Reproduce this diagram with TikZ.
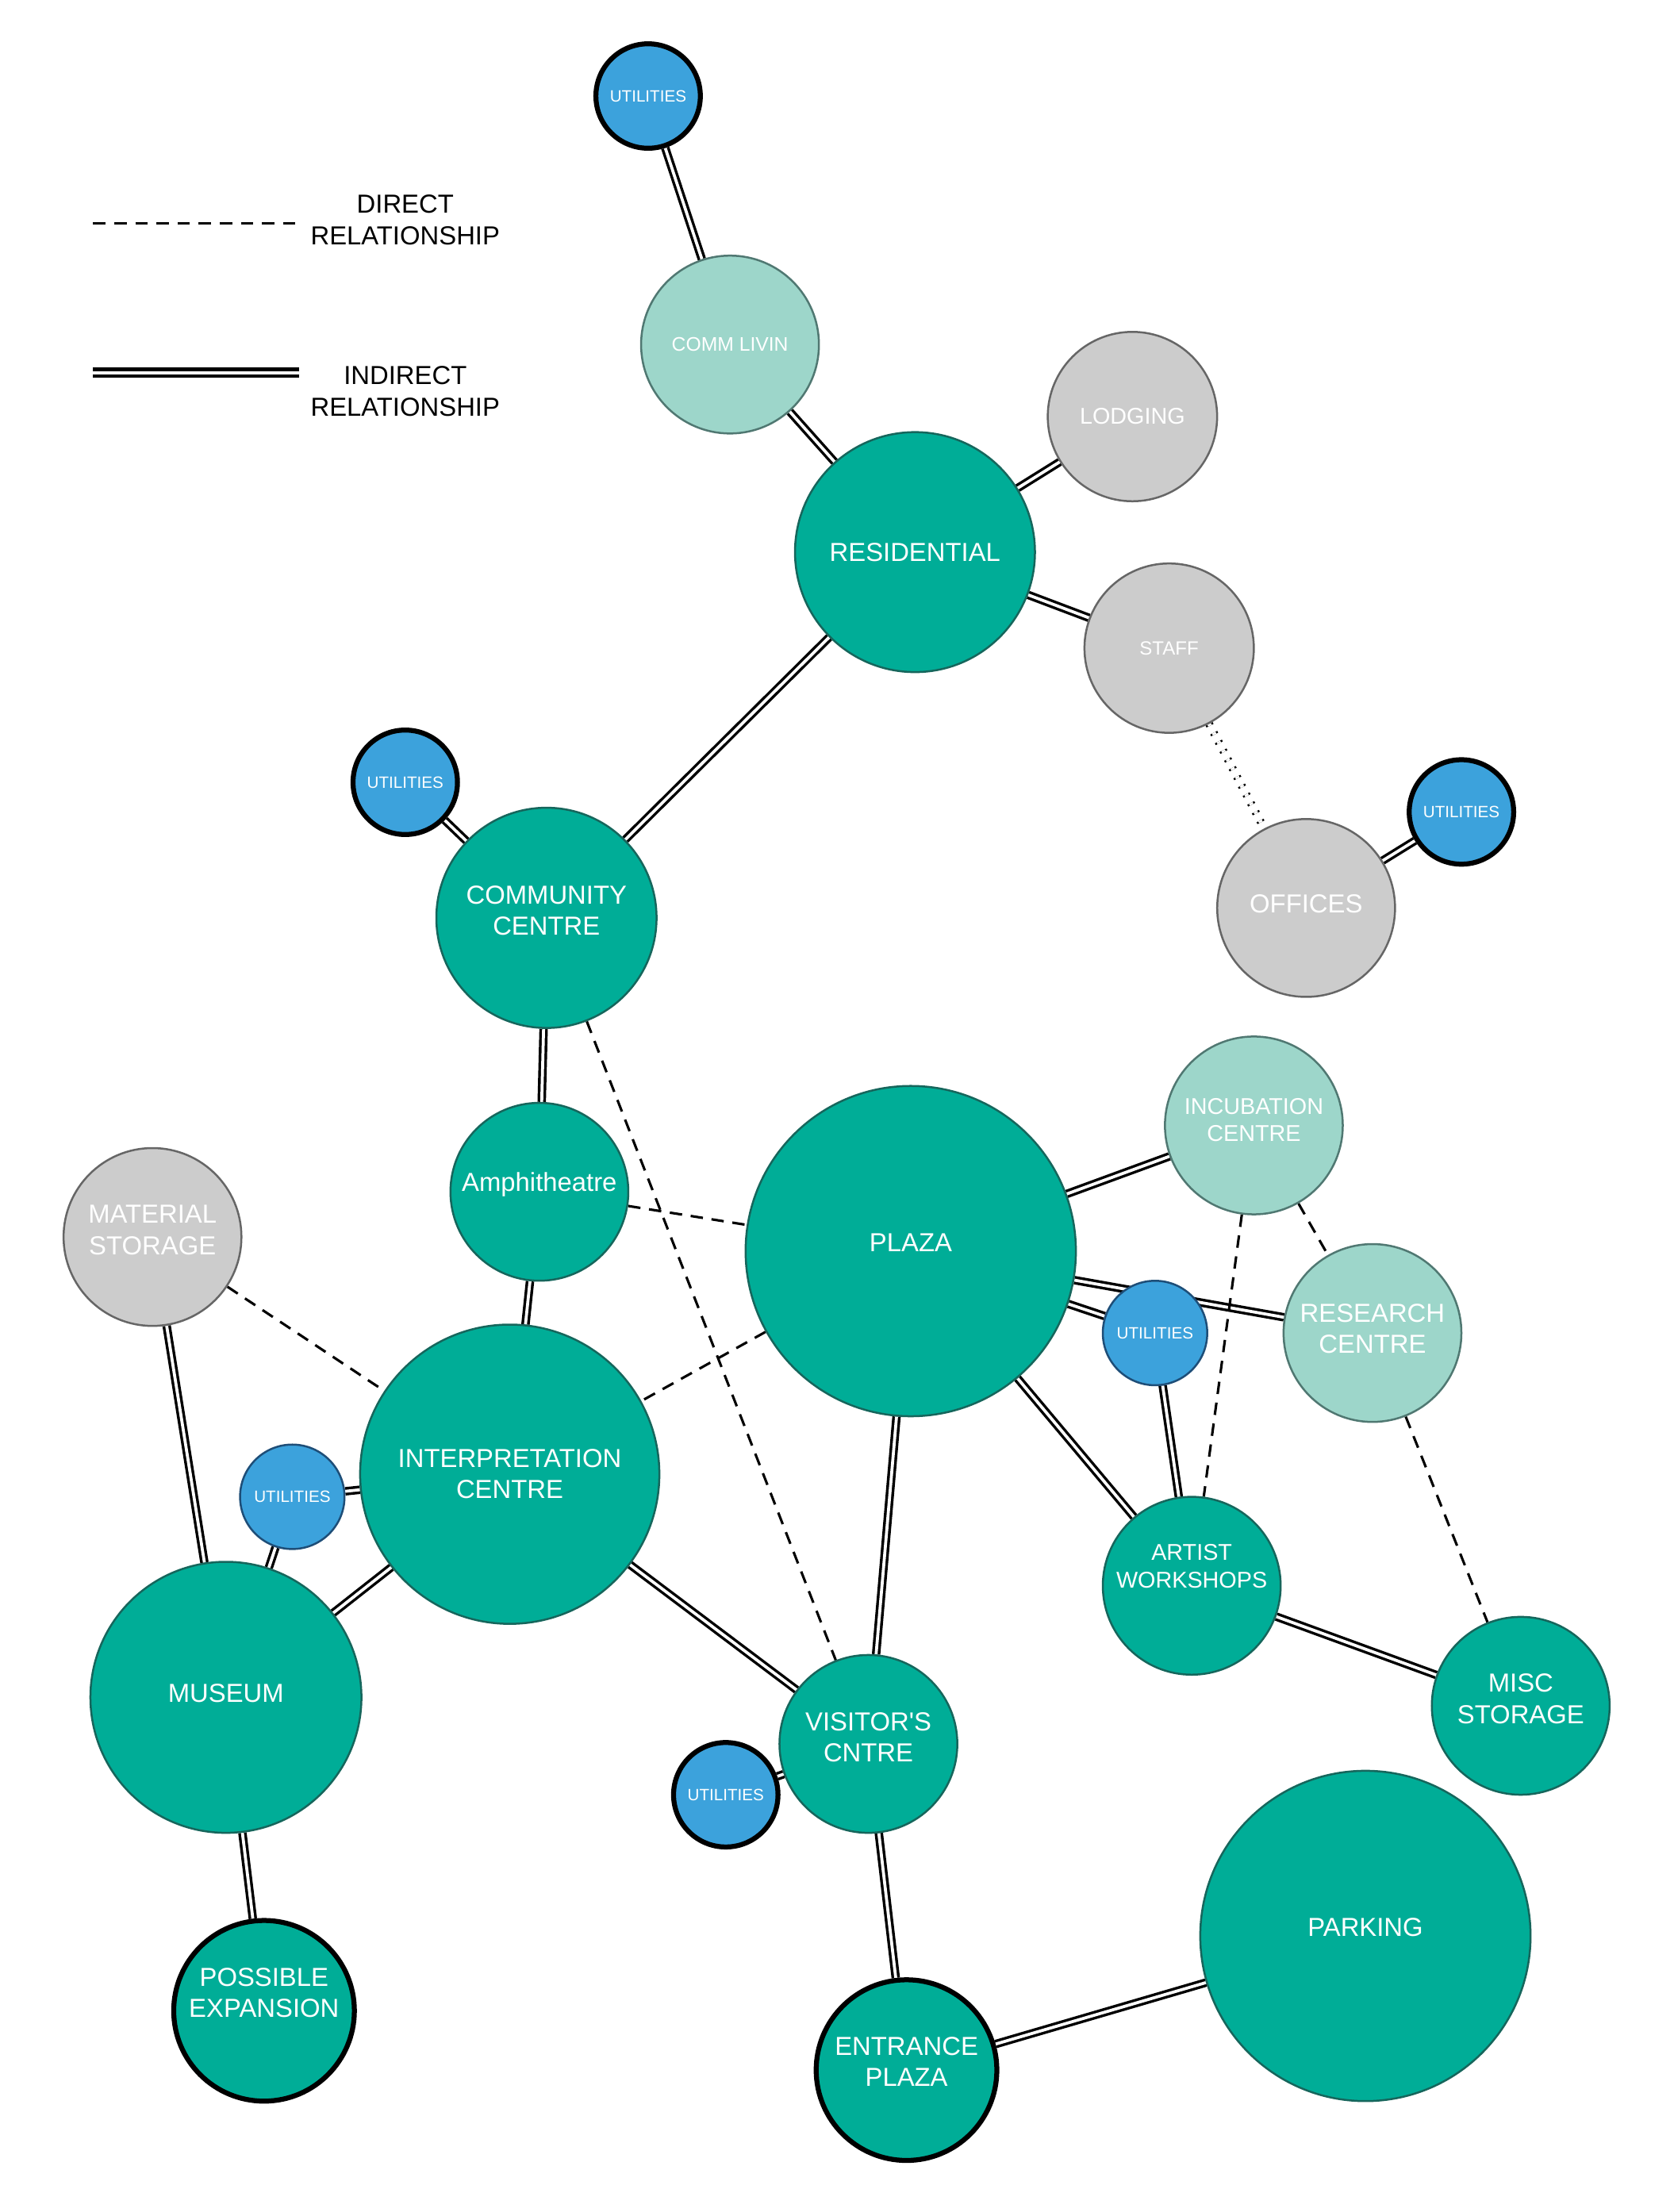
\documentclass[tikz,border=0pt]{standalone}
\usepackage{fontspec}
\setmainfont{Liberation Sans}
\usetikzlibrary{backgrounds}

\definecolor{hubteal}{RGB}{0,173,151}
\definecolor{hubedge}{RGB}{22,102,92}
\definecolor{softteal}{RGB}{157,214,202}
\definecolor{softedge}{RGB}{80,120,114}
\definecolor{stonefill}{RGB}{204,204,204}
\definecolor{stoneedge}{RGB}{102,102,102}
\definecolor{utilblue}{RGB}{60,162,220}
\definecolor{utiledge}{RGB}{30,78,120}

\tikzset{
  rad/.style={minimum size=#1*0.04cm},
  lift/.style={text depth=#1},
  bubble/.style={circle,inner sep=0pt,text=white,align=center,line width=0.8pt,
    font=\fontsize{10.5}{12.5}\selectfont},
  hub/.style={bubble,fill=hubteal,draw=hubedge},
  soft/.style={bubble,fill=softteal,draw=softedge},
  stone/.style={bubble,fill=stonefill,draw=stoneedge},
  util/.style={bubble,fill=utilblue,draw=utiledge,rad=37,font=\fontsize{6.6}{8}\selectfont},
  keyring/.style={draw=black,line width=2pt},
  indirect/.style={double,double distance=1.2pt,line width=1.1pt},
  direct/.style={line width=1pt,dash pattern=on 5pt off 3.5pt},
  dotty/.style={double,double distance=1.6pt,line width=0.8pt,dash pattern=on 0.8pt off 3.2pt},
  keytext/.style={align=center,font=\fontsize{10.5}{12.8}\selectfont},
}

\begin{document}
\begin{tikzpicture}[x=0.02cm,y=-0.02cm]
  \useasboundingbox (0,0) rectangle (1185,1566.5);

  % legend
  \coordinate (dirA) at (66,158);
  \coordinate (dirB) at (212,158);
  \coordinate (indA) at (66,264);
  \coordinate (indB) at (212,264);
  \node[keytext] (dirtext) at (287,156) {DIRECT\\RELATIONSHIP};
  \node[keytext] (indtext) at (287,277) {INDIRECT\\RELATIONSHIP};
  \draw[direct] (dirA)--(dirB);
  \draw[indirect,line width=1.3pt,double distance=1.5pt] (indA)--(indB);

  % spaces
  \node[util,keyring] (utiltop) at (459,68) {UTILITIES};
  \node[soft,rad=63,font=\fontsize{7.9}{9.5}\selectfont] (commliv) at (517,244) {COMM LIVIN};
  \node[hub,rad=85] (resid) at (648,391) {RESIDENTIAL};
  \node[stone,rad=60,font=\fontsize{9.2}{11}\selectfont] (lodge) at (802,295) {LODGING};
  \node[stone,rad=60,font=\fontsize{7.7}{9}\selectfont] (staff) at (828,459) {STAFF};
  \node[stone,rad=63,lift=3.4pt] (office) at (925,643) {OFFICES};
  \node[util,keyring] (utiloff) at (1035,575) {UTILITIES};
  \node[util,keyring] (utilcom) at (287,554) {UTILITIES};
  \node[hub,rad=78,lift=5.7pt] (commun) at (387,650) {COMMUNITY\\CENTRE};
  \node[hub,rad=63,lift=7.9pt] (amphi) at (382,844) {Amphitheatre};
  \node[hub,rad=117,lift=6.8pt] (plaza) at (645,886) {PLAZA};
  \node[soft,rad=63,lift=4.5pt,font=\fontsize{9.2}{11}\selectfont] (incub) at (888,797) {INCUBATION\\CENTRE};
  \node[soft,rad=63,lift=3.4pt] (research) at (972,944) {RESEARCH\\CENTRE};
  \node[util] (utilplaza) at (818,944) {UTILITIES};
  \node[stone,rad=63,lift=5.7pt] (matstore) at (108,876) {MATERIAL\\STORAGE};
  \node[hub,rad=106] (interp) at (361,1044) {INTERPRETATION\\CENTRE};
  \node[util] (utilint) at (207,1060) {UTILITIES};
  \node[hub,rad=63,lift=15.9pt,font=\fontsize{9.2}{11}\selectfont] (artist) at (844,1123) {ARTIST\\WORKSHOPS};
  \node[hub,rad=63,lift=5.7pt] (misc) at (1077,1208) {MISC\\STORAGE};
  \node[hub,rad=96,lift=3.4pt] (museum) at (160,1202) {MUSEUM};
  \node[hub,rad=63,lift=5.7pt] (visitor) at (615,1235) {VISITOR\textquotesingle S\\CNTRE};
  \node[util,keyring] (utilvis) at (514,1271) {UTILITIES};
  \node[hub,rad=117,lift=6.8pt] (parking) at (967,1371) {PARKING};
  \node[hub,rad=64,keyring,lift=14.7pt] (expand) at (187,1424) {POSSIBLE\\EXPANSION};
  \node[hub,rad=64,keyring,lift=6.8pt] (entrance) at (642,1466) {ENTRANCE\\PLAZA};

  \begin{scope}[on background layer]
    \draw[indirect] (utiltop)--(commliv);
    \draw[indirect] (commliv)--(resid);
    \draw[indirect] (resid)--(lodge);
    \draw[indirect] (resid)--(staff);
    \draw[indirect] (resid)--(commun);
    \draw[indirect] (utilcom)--(commun);
    \draw[indirect] (office)--(utiloff);
    \draw[dotty] (staff)--(office);
    \draw[indirect] (commun)--(amphi);
    \draw[indirect] (amphi)--(interp);
    \draw[indirect] (plaza)--(incub);
    \draw[indirect] (plaza)--(research);
    \draw[indirect] (plaza)--(utilplaza);
    \draw[indirect] (utilplaza)--(artist);
    \draw[indirect] (plaza)--(artist);
    \draw[indirect] (plaza)--(visitor);
    \draw[indirect] (interp)--(visitor);
    \draw[indirect] (interp)--(museum);
    \draw[indirect] (utilint)--(museum);
    \draw[indirect] (utilint)--(interp);
    \draw[indirect] (matstore)--(museum);
    \draw[indirect] (museum)--(expand);
    \draw[indirect] (visitor)--(utilvis);
    \draw[indirect] (visitor)--(entrance);
    \draw[indirect] (entrance)--(parking);
    \draw[indirect] (artist)--(misc);
    \draw[direct] (commun)--(visitor);
    \draw[direct] (amphi)--(plaza);
    \draw[direct] (plaza)--(interp);
    \draw[direct] (matstore)--(interp);
    \draw[direct] (incub)--(artist);
    \draw[direct] (incub)--(research);
    \draw[direct] (research)--(misc);
  \end{scope}
\end{tikzpicture}
\end{document}
